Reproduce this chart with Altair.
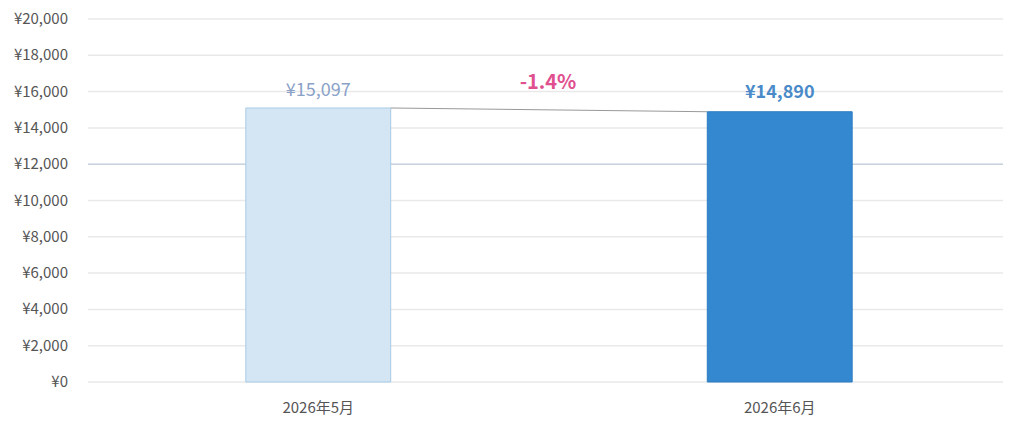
import altair as alt
import pandas as pd

months = ["2026年5月", "2026年6月"]
values = [15097, 14890]
bar_colors = ["#d4e6f4", "#3388d0"]
stroke_colors = ["#a8cbe6", "#2f7cc0"]
label_colors = ["#8aa2c8", "#4a8ac8"]
change_text = "-1.4%"
change_y = 16450
ref_line = 12000
y_ticks = [0, 2000, 4000, 6000, 8000, 10000, 12000, 14000, 16000, 18000, 20000]

FONT = "Noto Sans CJK JP"

df = pd.DataFrame({
    "month": months,
    "value": values,
    "fill": bar_colors,
    "stroke": stroke_colors,
    "label": [f"¥{v:,}" for v in values],
})
ticks_df = pd.DataFrame({"v": y_ticks, "t": [f"¥{v:,}" for v in y_ticks]})

y_scale = alt.Scale(domain=[0, 20000])
x_scale = alt.Scale(paddingInner=0.686, paddingOuter=0.342, range=[0, 922])

grid = alt.Chart(ticks_df).mark_rule(color="#e9e9e9", strokeWidth=1.5).encode(
    y=alt.Y("v:Q", scale=y_scale, title=None))

ylabels = alt.Chart(ticks_df).mark_text(
    align="right", baseline="middle", font=FONT, fontSize=15, color="#555555").encode(
    x=alt.value(-20), y=alt.Y("v:Q", scale=y_scale, title=None), text="t:N")

ref = alt.Chart(pd.DataFrame({"v": [ref_line]})).mark_rule(
    color="#c8d3de", strokeWidth=1.5).encode(
    y=alt.Y("v:Q", scale=y_scale, title=None))

bars = alt.Chart(df).mark_bar(strokeWidth=1).encode(
    x=alt.X("month:N", sort=months, title=None, scale=x_scale),
    y=alt.Y("value:Q", title=None, scale=y_scale),
    fill=alt.Fill("fill:N", scale=None),
    stroke=alt.Stroke("stroke:N", scale=None),
)

lab1 = alt.Chart(df.iloc[[0]]).mark_text(dy=-17, font=FONT, fontSize=18,
                                          color=label_colors[0]).encode(
    x=alt.X("month:N", sort=months, title=None),
    y=alt.Y("value:Q", title=None), text="label:N")
lab2 = alt.Chart(df.iloc[[1]]).mark_text(dy=-19, font=FONT, fontSize=18, fontWeight="bold",
                                          color=label_colors[1]).encode(
    x=alt.X("month:N", sort=months, title=None),
    y=alt.Y("value:Q", title=None), text="label:N")

conn = alt.Chart(pd.DataFrame({"a": [months[0]], "b": [months[1]],
                               "v1": [values[0]], "v2": [values[1]]})).mark_rule(
    color="#999999", strokeWidth=1).encode(
    x=alt.X("a:N", sort=months, bandPosition=1, title=None),
    x2=alt.X2("b:N", bandPosition=0),
    y=alt.Y("v1:Q", title=None), y2="v2:Q")

change = alt.Chart(pd.DataFrame({"t": [change_text], "v": [change_y]})).mark_text(
    font=FONT, fontSize=20, fontWeight="bold", color="#e0508f").encode(
    x=alt.value(460), y=alt.Y("v:Q", title=None), text="t:N")

chart = alt.layer(grid, ref, bars, conn, lab1, lab2, change, ylabels).properties(
    width=915, height=363,
    autosize=alt.AutoSizeParams(type="none"),
    padding={"left": 80, "top": 11, "right": 5, "bottom": 40},
).configure_view(stroke=None).configure_axisY(
    grid=False, labels=False, domain=False, ticks=False, title=None
).configure_axisX(
    grid=False, domain=False, ticks=False, labelAngle=0, labelPadding=18,
    labelFont=FONT, labelFontSize=15, labelColor="#555555"
)

chart.save("out.html", embed_options={"renderer": "svg", "actions": False})
